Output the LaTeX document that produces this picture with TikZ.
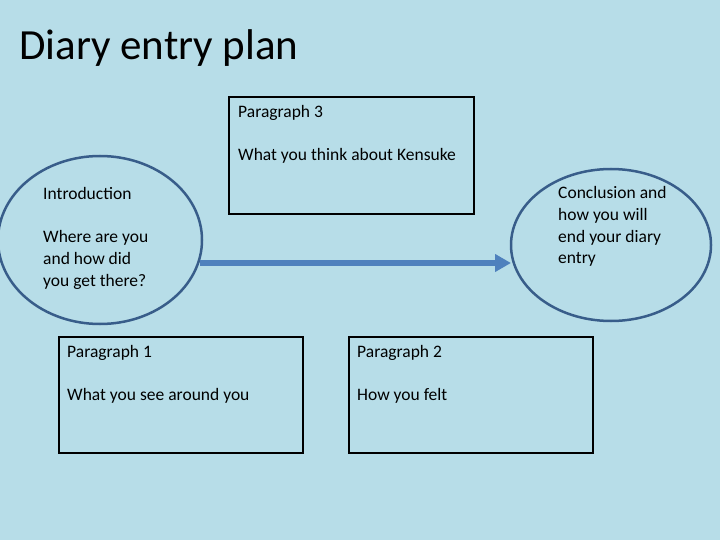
\documentclass[tikz,border=0pt]{standalone}
\usepackage{fontspec}
\usetikzlibrary{arrows.meta}
\setmainfont{Carlito}
\definecolor{bg}{RGB}{183,221,232}
\definecolor{eline}{RGB}{56,93,138}
\definecolor{arr}{RGB}{79,129,189}
\begin{document}
\begin{tikzpicture}[x=1pt,y=-1pt,
  txt/.style={anchor=base west,inner sep=0pt,font=\fontsize{17.5}{21}\selectfont},
  box/.style={draw=black,line width=2.2pt},
  oval/.style={draw=eline,line width=2.5pt}]
\fill[bg] (0,0) rectangle (720,540);
\useasboundingbox (0,0) rectangle (720,540);
\node[anchor=base west,inner sep=0pt,font=\fontsize{43}{50}\selectfont] (title) at (19,60) {Diary entry plan};
\draw[oval] (100,240) ellipse [x radius=102,y radius=84];
\draw[oval] (611,245) ellipse [x radius=100,y radius=76];
\draw[box] (229,97) rectangle (474,214);
\draw[box] (59,337) rectangle (303,453);
\draw[box] (349,337) rectangle (593,453);
\coordinate (a1) at (200,263);
\coordinate (a2) at (511,263);
\draw[arr,line width=5.5pt,-{Triangle[length=16pt,width=17pt]}] (a1) -- (a2);
\node[txt] (p3) at (238,118) {Paragraph 3};
\node[txt] (p3b) at (238,161) {What you think about Kensuke};
\node[txt] (in) at (43,200) {Introduction};
\node[txt] (in1) at (43,243) {Where are you};
\node[txt] (in2) at (43,264.5) {and how did};
\node[txt] (in3) at (43,286) {you get there?};
\node[txt] (c1) at (558,199) {Conclusion and};
\node[txt] (c2) at (558,220.5) {how you will};
\node[txt] (c3) at (558,242) {end your diary};
\node[txt] (c4) at (558,263.5) {entry};
\node[txt] (p1) at (67,357) {Paragraph 1};
\node[txt] (p1b) at (67,400) {What you see around you};
\node[txt] (p2) at (357,357) {Paragraph 2};
\node[txt] (p2b) at (357,400) {How you felt};
\end{tikzpicture}
\end{document}
